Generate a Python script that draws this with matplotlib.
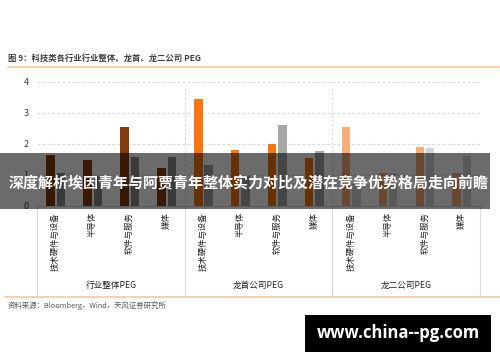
import matplotlib
matplotlib.use('Agg')
import matplotlib.pyplot as plt
import matplotlib.transforms as mtransforms
from matplotlib.patches import Rectangle
from matplotlib.lines import Line2D

plt.rcParams['font.family'] = ['Noto Sans CJK SC', 'DejaVu Sans']

# 数据
categories = ['技术硬件与设备', '半导体', '软件与服务', '媒体']
groups = ['行业整体PEG', '龙首公司PEG', '龙二公司PEG']
peg_main = [1.65, 1.47, 2.55, 1.22,
            3.44, 1.81, 1.98, 1.53,
            2.53, 1.05, 1.90, 1.05]
peg_gray = [1.07, 0.96, 1.57, 1.57,
            1.31, 0.96, 2.59, 1.76,
            0.70, 1.05, 1.86, 1.60]
yticks = [0, 1, 2, 3, 4]

main_colors = ['#843c0c', '#f7760f', '#f8ad7a']
gray_colors = ['#8a8a8a', '#a6a6a6', '#d4d4d4']
line_col = '#d9d9d9'

W, H = 500, 362
fig = plt.figure(figsize=(5, 3.62), dpi=100)
fig.patch.set_facecolor('white')

def fx(px):
    return px / W

def fy(py):
    return 1 - py / H

# 主图区域
ax = fig.add_axes([fx(37), fy(205.7), fx(480) - fx(37), fy(81.7) - fy(205.7)])
n_cat = len(categories)
for i in range(len(peg_main)):
    g = i // n_cat
    ax.bar(i + 0.37, peg_main[i], width=0.23, color=main_colors[g], zorder=3)
    ax.bar(i + 0.65, peg_gray[i], width=0.23, color=gray_colors[g], zorder=3)

ax.set_xlim(0, len(peg_main))
ax.set_ylim(0, 4)
ax.set_yticks(yticks)
ax.set_yticklabels([str(t) for t in yticks], fontsize=6.5, color='#404040')
ax.tick_params(axis='y', length=0, pad=6)
ax.tick_params(axis='x', length=0, labelbottom=False)
for s in ['top', 'right', 'left']:
    ax.spines[s].set_visible(False)
ax.spines['bottom'].set_color(line_col)
ax.spines['bottom'].set_linewidth(0.8)
for t in yticks[1:]:
    ax.axhline(t, color=line_col, lw=0.8, ls=(0, (2.5, 2)), zorder=1)

trans = mtransforms.blended_transform_factory(ax.transData, ax.transAxes)
# 组间分隔线
for k in range(len(groups) + 1):
    xk = k * n_cat
    ax.plot([xk, xk], [0, -0.736], transform=trans, color=line_col, lw=0.8, clip_on=False)
    if 0 < k < len(groups):
        ax.plot([xk, xk], [0, 0.96], transform=trans, color=line_col, lw=0.8,
                ls=(0, (2, 2)), clip_on=False, zorder=1)

# 类别标签
for i in range(len(peg_main)):
    ax.text(i + 0.5, -0.05, categories[i % n_cat], transform=trans, rotation=90,
            ha='center', va='top', fontsize=6, color='#262626')
for k, gname in enumerate(groups):
    ax.text(k * n_cat + n_cat / 2, -0.64, gname, transform=trans, ha='center',
            va='center', fontsize=6.2, color='#262626')

# 标题与来源
fig.text(fx(8), fy(58.5), '图 9：科技类各行业行业整体、龙首、龙二公司 PEG', fontsize=6,
         fontweight='bold', color='#404040', va='center', ha='left')
fig.add_artist(Line2D([fx(8), 1], [fy(66.7), fy(66.7)], color='#f8cba2', lw=1.3))
fig.add_artist(Line2D([fx(5), 1], [fy(297), fy(297)], color='#f8cba2', lw=1.3))
fig.text(fx(8), fy(306), '资料来源：Bloomberg，Wind，天风证券研究所', fontsize=5.3,
         color='#595959', va='center', ha='left')

# 覆盖横幅
band = Rectangle((0, fy(209)), fx(490), fy(153) - fy(209), transform=fig.transFigure,
                 facecolor='black', alpha=0.58, edgecolor='none', zorder=5)
fig.add_artist(band)
fig.text(fx(249), fy(183.5), '深度解析埃因青年与阿贾青年整体实力对比及潜在竞争优势格局走向前瞻',
         fontsize=10.8, fontweight='bold', color='white', ha='center', va='center', zorder=6)

# 水印
wm = Rectangle((fx(305), fy(352)), fx(491) - fx(305), fy(315) - fy(352),
               transform=fig.transFigure, facecolor='black', edgecolor='none', zorder=5)
fig.add_artist(wm)
fig.text(fx(398), fy(333.5), 'www.china--pg.com', fontsize=12, fontweight='bold',
         family=['Open Sans', 'DejaVu Sans'], color='white', ha='center', va='center', zorder=6)

fig.savefig('out.png', dpi=100)
